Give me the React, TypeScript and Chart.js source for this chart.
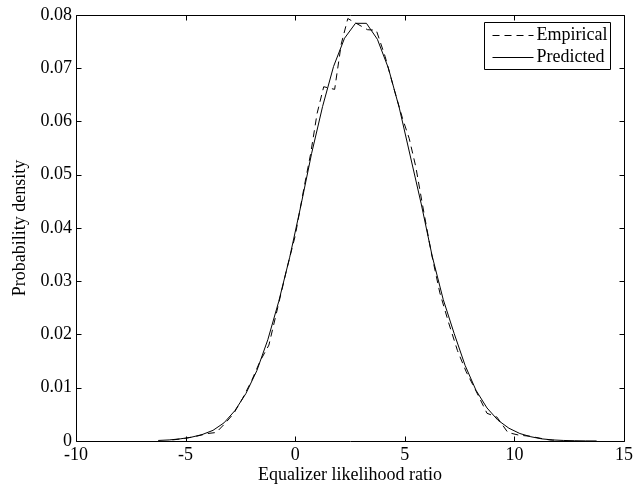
import React, { useEffect, useRef } from "react";
import { Chart, registerables } from "chart.js";

Chart.register(...registerables);

// Predicted density (solid line)
const predX = [
  -6.25, -5.75, -5.25, -4.75, -4.25, -3.75, -3.25, -2.75, -2.25, -1.75,
  -1.25, -0.75, -0.25, 0.25, 0.75, 1.25, 1.75, 2.25, 2.75, 3.25,
  3.75, 4.25, 4.75, 5.25, 5.75, 6.25, 6.75, 7.25, 7.75, 8.25,
  8.75, 9.25, 9.75, 10.25, 10.75, 11.25, 11.75, 12.25, 12.75, 13.25, 13.75,
];
const predY = [
  0.0001, 0.0002, 0.0004, 0.0007, 0.0012, 0.002, 0.0034, 0.0057, 0.0089, 0.0132,
  0.019, 0.0262, 0.0345, 0.044, 0.054, 0.0628, 0.0703, 0.0756, 0.0784, 0.0784,
  0.0754, 0.07, 0.0625, 0.0535, 0.0445, 0.0347, 0.0266, 0.0202, 0.0142, 0.0095,
  0.0062, 0.0039, 0.0024, 0.0014, 0.0008, 0.0004, 0.0002, 0.0001, 0.00005, 0.00002, 0.00001,
];

// Empirical density (dashed line)
const empX = [
  -5.6, -5.0, -4.5, -4.0, -3.6, -3.2, -2.8, -2.4, -2.0, -1.6,
  -1.2, -0.8, -0.4, 0.0, 0.4, 0.7, 1.0, 1.3, 1.8, 2.1,
  2.4, 3.3, 3.7, 4.1, 4.5, 4.9, 5.2, 5.5, 5.8, 6.2,
  6.6, 7.0, 7.4, 7.8, 8.2, 8.75, 9.2, 9.7, 10.2, 10.7,
  11.2, 11.6, 12.0,
];
const empY = [
  0.0002, 0.0005, 0.0009, 0.0014, 0.0016, 0.0033, 0.0052, 0.008, 0.0112, 0.015,
  0.018, 0.025, 0.032, 0.0385, 0.0475, 0.0538, 0.0615, 0.0665, 0.066, 0.0745,
  0.0793, 0.0772, 0.0771, 0.0722, 0.0662, 0.0605, 0.0568, 0.0515, 0.0445, 0.0355,
  0.0278, 0.0222, 0.017, 0.013, 0.0098, 0.0052, 0.0045, 0.0016, 0.0011, 0.0009,
  0.0005, 0.0002, 0.0001,
];

const xTicks = [-10, -5, 0, 5, 10, 15];
const yTicks = [0, 0.01, 0.02, 0.03, 0.04, 0.05, 0.06, 0.07, 0.08];

const seriesLabels = ["Empirical", "Predicted"];
const xTitle = "Equalizer likelihood ratio";
const yTitle = "Probability density";

const FONT = "'Liberation Serif', 'DejaVu Serif', serif";

const framePlugin = {
  id: "frame",
  afterDraw(chart: any) {
    const { ctx, chartArea, scales } = chart;
    const { left, right, top, bottom } = chartArea;
    const xs = scales.x;
    const ys = scales.y;
    ctx.save();
    ctx.strokeStyle = "#000";
    ctx.lineWidth = 1;
    ctx.setLineDash([]);
    const L = Math.round(left) + 0.5;
    const R = Math.round(right) + 0.5;
    const T = Math.round(top) + 0.5;
    const B = Math.round(bottom) + 0.5;
    ctx.beginPath();
    ctx.rect(L, T, R - L, B - T);
    ctx.stroke();
    const tl = 5;
    ctx.beginPath();
    xTicks.forEach((v) => {
      const px = Math.round(xs.getPixelForValue(v)) + 0.5;
      ctx.moveTo(px, B);
      ctx.lineTo(px, B - tl);
      ctx.moveTo(px, T);
      ctx.lineTo(px, T + tl);
    });
    yTicks.forEach((v) => {
      const py = Math.round(ys.getPixelForValue(v)) + 0.5;
      ctx.moveTo(L, py);
      ctx.lineTo(L + tl, py);
      ctx.moveTo(R, py);
      ctx.lineTo(R - tl, py);
    });
    ctx.stroke();

    // Legend
    const bw = 126;
    const bh = 47;
    const bx = Math.round(right) - 14 - bw + 0.5;
    const by = Math.round(top) + 7 + 0.5;
    ctx.fillStyle = "#fff";
    ctx.fillRect(bx, by, bw, bh);
    ctx.beginPath();
    ctx.rect(bx, by, bw, bh);
    ctx.stroke();
    const rows = [by + 12, by + 34];
    chart.data.datasets.forEach((ds: any, i: number) => {
      const yy = Math.round(rows[i]) + 0.5;
      ctx.beginPath();
      ctx.setLineDash(ds.borderDash || []);
      ctx.moveTo(bx + 8, yy);
      ctx.lineTo(bx + 49, yy);
      ctx.stroke();
      ctx.setLineDash([]);
      ctx.fillStyle = "#000";
      ctx.font = `18px ${FONT}`;
      ctx.textAlign = "left";
      ctx.textBaseline = "middle";
      ctx.fillText(ds.label, bx + 52, yy);
    });
    ctx.restore();
  },
};

export default function App() {
  const ref = useRef<HTMLCanvasElement | null>(null);

  useEffect(() => {
    document.body.style.margin = "0";
    const canvas = ref.current;
    if (!canvas) return;
    const chart = new Chart(canvas, {
      type: "line",
      data: {
        datasets: [
          {
            label: seriesLabels[0],
            data: empX.map((x, i) => ({ x, y: empY[i] })),
            borderColor: "#000",
            borderWidth: 1,
            borderDash: [7, 5],
            pointRadius: 0,
            tension: 0,
            fill: false,
          },
          {
            label: seriesLabels[1],
            data: predX.map((x, i) => ({ x, y: predY[i] })),
            borderColor: "#000",
            borderWidth: 1,
            pointRadius: 0,
            tension: 0,
            fill: false,
          },
        ],
      },
      options: {
        animation: false,
        responsive: false,
        devicePixelRatio: 1,
        layout: { padding: { left: 0, top: 13, right: 20, bottom: 0 } },
        plugins: {
          legend: { display: false },
          tooltip: { enabled: false },
        },
        scales: {
          x: {
            type: "linear",
            min: -10,
            max: 15,
            afterBuildTicks: (s: any) => {
              s.ticks = xTicks.map((v) => ({ value: v }));
            },
            afterFit: (s: any) => {
              s.height = 46;
            },
            grid: { display: false, drawTicks: false },
            border: { display: false },
            ticks: {
              color: "#000",
              padding: 3,
              maxRotation: 0,
              autoSkip: false,
              font: { family: FONT, size: 18 },
              callback: (v: any) => String(v),
            },
            title: {
              display: true,
              text: xTitle,
              color: "#000",
              font: { family: FONT, size: 18 },
              padding: { top: 0, bottom: 1 },
            },
          },
          y: {
            type: "linear",
            min: 0,
            max: 0.08,
            afterBuildTicks: (s: any) => {
              s.ticks = yTicks.map((v) => ({ value: v }));
            },
            afterFit: (s: any) => {
              s.width = 76;
            },
            grid: { display: false, drawTicks: false },
            border: { display: false },
            ticks: {
              color: "#000",
              padding: 4,
              autoSkip: false,
              font: { family: FONT, size: 18 },
              callback: (v: any) => String(Number(Number(v).toFixed(2))),
            },
            title: {
              display: true,
              text: yTitle,
              color: "#000",
              font: { family: FONT, size: 18 },
              padding: { top: 9, bottom: 0 },
            },
          },
        },
      },
      plugins: [framePlugin],
    });
    return () => chart.destroy();
  }, []);

  return (
    <canvas
      ref={ref}
      width={644}
      height={487}
      style={{ display: "block", width: 644, height: 487 }}
    />
  );
}
